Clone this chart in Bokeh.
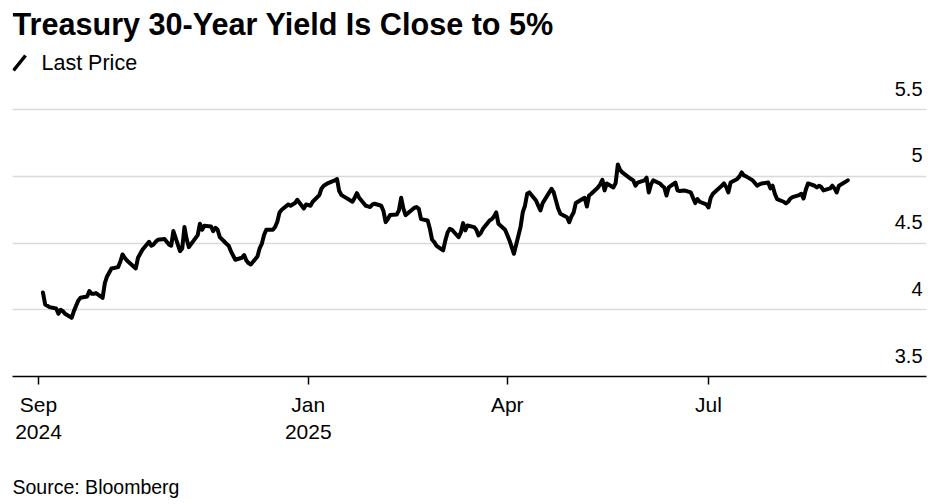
import pandas as pd
from bokeh.plotting import figure
from bokeh.models import Range1d, FixedTicker, Label, Arrow, Grid, ColumnDataSource, Title
from bokeh.embed import file_html
from bokeh.resources import INLINE

# ---------------- data ----------------
title_text = "Treasury 30-Year Yield Is Close to 5%"
series_name = "Last Price"
source_text = "Source: Bloomberg"

dates = [
    # Sep 2024
    "2024-09-03", "2024-09-04", "2024-09-05", "2024-09-06", "2024-09-09", "2024-09-10", "2024-09-11",
    "2024-09-12", "2024-09-13", "2024-09-16", "2024-09-17", "2024-09-18", "2024-09-19", "2024-09-20",
    "2024-09-23", "2024-09-24", "2024-09-25", "2024-09-26", "2024-09-27", "2024-09-30",
    # Oct 2024
    "2024-10-01", "2024-10-02", "2024-10-03", "2024-10-04", "2024-10-07", "2024-10-08", "2024-10-09",
    "2024-10-10", "2024-10-11", "2024-10-15", "2024-10-16", "2024-10-17", "2024-10-18", "2024-10-21",
    "2024-10-22", "2024-10-23", "2024-10-24", "2024-10-25", "2024-10-28", "2024-10-29", "2024-10-30",
    "2024-10-31",
    # Nov 2024
    "2024-11-01", "2024-11-04", "2024-11-05", "2024-11-06", "2024-11-07", "2024-11-08", "2024-11-12",
    "2024-11-13", "2024-11-14", "2024-11-15", "2024-11-18", "2024-11-19", "2024-11-20", "2024-11-21",
    "2024-11-22", "2024-11-25", "2024-11-26", "2024-11-27", "2024-11-29",
    # Dec 2024
    "2024-12-02", "2024-12-03", "2024-12-04", "2024-12-05", "2024-12-06", "2024-12-09", "2024-12-10",
    "2024-12-11", "2024-12-12", "2024-12-13", "2024-12-16", "2024-12-17", "2024-12-18", "2024-12-19",
    "2024-12-20", "2024-12-23", "2024-12-24", "2024-12-26", "2024-12-27", "2024-12-30", "2024-12-31",
    # Jan 2025
    "2025-01-02", "2025-01-03", "2025-01-06", "2025-01-07", "2025-01-08", "2025-01-10", "2025-01-13",
    "2025-01-14", "2025-01-15", "2025-01-16", "2025-01-17", "2025-01-21", "2025-01-22", "2025-01-23",
    "2025-01-24", "2025-01-27", "2025-01-28", "2025-01-29", "2025-01-30", "2025-01-31",
    # Feb 2025
    "2025-02-03", "2025-02-04", "2025-02-05", "2025-02-06", "2025-02-07", "2025-02-10", "2025-02-11",
    "2025-02-12", "2025-02-13", "2025-02-14", "2025-02-18", "2025-02-19", "2025-02-20", "2025-02-21",
    "2025-02-24", "2025-02-25", "2025-02-26", "2025-02-27", "2025-02-28",
    # Mar 2025
    "2025-03-03", "2025-03-04", "2025-03-05", "2025-03-06", "2025-03-07", "2025-03-10", "2025-03-11",
    "2025-03-12", "2025-03-13", "2025-03-14", "2025-03-17", "2025-03-18", "2025-03-19", "2025-03-20",
    "2025-03-21", "2025-03-24", "2025-03-25", "2025-03-26", "2025-03-27", "2025-03-28", "2025-03-31",
    # Apr 2025
    "2025-04-01", "2025-04-02", "2025-04-03", "2025-04-04", "2025-04-07", "2025-04-08", "2025-04-09",
    "2025-04-10", "2025-04-11", "2025-04-14", "2025-04-15", "2025-04-16", "2025-04-17", "2025-04-21",
    "2025-04-22", "2025-04-23", "2025-04-24", "2025-04-25", "2025-04-28", "2025-04-29", "2025-04-30",
    # May 2025
    "2025-05-01", "2025-05-02", "2025-05-05", "2025-05-06", "2025-05-07", "2025-05-08", "2025-05-09",
    "2025-05-12", "2025-05-13", "2025-05-14", "2025-05-15", "2025-05-16", "2025-05-19", "2025-05-20",
    "2025-05-21", "2025-05-22", "2025-05-23", "2025-05-27", "2025-05-28", "2025-05-29", "2025-05-30",
    # Jun 2025
    "2025-06-02", "2025-06-03", "2025-06-04", "2025-06-05", "2025-06-06", "2025-06-09", "2025-06-10",
    "2025-06-11", "2025-06-12", "2025-06-13", "2025-06-16", "2025-06-17", "2025-06-18", "2025-06-20",
    "2025-06-23", "2025-06-24", "2025-06-25", "2025-06-26", "2025-06-27", "2025-06-30",
    # Jul 2025
    "2025-07-01", "2025-07-02", "2025-07-03", "2025-07-07", "2025-07-08", "2025-07-09", "2025-07-10",
    "2025-07-11", "2025-07-14", "2025-07-15", "2025-07-16", "2025-07-17", "2025-07-18", "2025-07-21",
    "2025-07-22", "2025-07-23", "2025-07-24", "2025-07-25", "2025-07-28", "2025-07-29", "2025-07-30",
    "2025-07-31",
    # Aug / Sep 2025
    "2025-08-01", "2025-08-04", "2025-08-05", "2025-08-06", "2025-08-07", "2025-08-08", "2025-08-11",
    "2025-08-12", "2025-08-13", "2025-08-14", "2025-08-15", "2025-08-18", "2025-08-19", "2025-08-20",
    "2025-08-21", "2025-08-22", "2025-08-25", "2025-08-26", "2025-08-27", "2025-08-28", "2025-08-29",
    "2025-09-02",
]

yields = [
    # Sep 2024
    4.13, 4.04, 4.03, 4.02, 4.01, 3.97, 4.00, 3.99, 3.97, 3.94, 3.99, 4.03, 4.07, 4.09,
    4.10, 4.14, 4.12, 4.12, 4.125, 4.09,
    # Oct 2024
    4.20, 4.25, 4.28, 4.31, 4.32, 4.36, 4.415, 4.39, 4.37, 4.31, 4.39, 4.42, 4.45, 4.51,
    4.48, 4.49, 4.51, 4.525, 4.53, 4.51, 4.49, 4.48,
    # Nov 2024
    4.59, 4.44, 4.46, 4.62, 4.53, 4.47, 4.56, 4.645, 4.60, 4.63, 4.625, 4.59, 4.615, 4.60,
    4.545, 4.495, 4.48, 4.44, 4.375,
    # Dec 2024
    4.39, 4.41, 4.37, 4.35, 4.34, 4.40, 4.46, 4.495, 4.56, 4.60, 4.60, 4.62, 4.66, 4.73,
    4.75, 4.79, 4.78, 4.80, 4.825, 4.76, 4.79,
    # Jan 2025
    4.78, 4.81, 4.86, 4.91, 4.93, 4.95, 4.97, 4.98, 4.89, 4.86, 4.85, 4.81, 4.84, 4.874,
    4.84, 4.78, 4.775, 4.77, 4.79, 4.795,
    # Feb 2025
    4.78, 4.74, 4.657, 4.68, 4.71, 4.714, 4.745, 4.84, 4.76, 4.71, 4.765, 4.77, 4.757, 4.68,
    4.67, 4.607, 4.525, 4.507, 4.48,
    # Mar 2025
    4.445, 4.52, 4.58, 4.607, 4.60, 4.544, 4.58, 4.65, 4.595, 4.632, 4.62, 4.60, 4.557, 4.575,
    4.607, 4.67, 4.68, 4.70, 4.73, 4.645, 4.60,
    # Apr 2025
    4.56, 4.52, 4.47, 4.42, 4.62, 4.73, 4.78, 4.87, 4.88, 4.82, 4.78, 4.745, 4.80, 4.907,
    4.88, 4.82, 4.76, 4.72, 4.694, 4.657, 4.70,
    # May 2025
    4.73, 4.80, 4.83, 4.84, 4.774, 4.857, 4.87, 4.917, 4.94, 4.975, 4.895, 4.947, 4.917, 4.95,
    5.09, 5.05, 5.03, 4.98, 4.97, 4.93, 4.954,
    # Jun 2025
    4.97, 4.99, 4.88, 4.94, 4.97, 4.947, 4.93, 4.917, 4.857, 4.917, 4.954, 4.895, 4.89, 4.895,
    4.88, 4.84, 4.80, 4.83, 4.81, 4.79,
    # Jul 2025
    4.767, 4.84, 4.87, 4.93, 4.947, 4.92, 4.88, 4.954, 4.98, 5.00, 5.03, 5.007, 5.00, 4.97,
    4.95, 4.93, 4.94, 4.947, 4.954, 4.91, 4.93, 4.87,
    # Aug / Sep 2025
    4.83, 4.81, 4.797, 4.81, 4.834, 4.845, 4.86, 4.87, 4.834, 4.90, 4.947, 4.93, 4.917, 4.93,
    4.92, 4.895, 4.91, 4.93, 4.91, 4.88, 4.93,
    4.97,
]

ytick_values = [3.5, 4.0, 4.5, 5.0, 5.5]
ytick_labels = ["3.5", "4", "4.5", "5", "5.5"]
grid_values = [4.0, 4.5, 5.0, 5.5]

xtick_dates = ["2024-09-01", "2025-01-01", "2025-04-01", "2025-07-01"]
xtick_labels = ["Sep\n2024", "Jan\n2025", "Apr", "Jul"]

# ---------------- layout constants (canvas px) ----------------
FONT = "Liberation Sans"
W, H = 933, 502
FRAME_LEFT, FRAME_RIGHT = 12, 926
FRAME_TOP, FRAME_BOTTOM = 0, 376
PX_PER_UNIT = 133.4
SEP_TICK_PX = 38
JUL_TICK_PX = 708


def ms(d):
    return pd.Timestamp(d).value / 1e6


t_sep = ms(xtick_dates[0])
t_jul = ms(xtick_dates[3])
ms_per_px = (t_jul - t_sep) / (JUL_TICK_PX - SEP_TICK_PX)
x0 = t_sep - (SEP_TICK_PX - FRAME_LEFT) * ms_per_px
x1 = t_sep + (FRAME_RIGHT - SEP_TICK_PX) * ms_per_px
y0 = 3.5
y1 = 3.5 + (FRAME_BOTTOM - FRAME_TOP) / PX_PER_UNIT

src = ColumnDataSource(dict(x=[ms(d) for d in dates], y=yields))

p = figure(width=W, height=H, x_axis_type="datetime",
           x_range=Range1d(x0, x1), y_range=Range1d(y0, y1),
           output_backend="svg", toolbar_location=None,
           y_axis_location=None,
           min_border_left=FRAME_LEFT, min_border_right=W - FRAME_RIGHT,
           min_border_top=FRAME_TOP, min_border_bottom=H - FRAME_BOTTOM,
           background_fill_color="white", border_fill_color="white",
           outline_line_color=None)

p.xgrid.visible = False
for g in p.ygrid:
    g.visible = False
p.add_layout(Grid(dimension=1, ticker=FixedTicker(ticks=grid_values),
                  grid_line_color="#dadada", grid_line_width=1.6))

tick_ms = [ms(d) for d in xtick_dates]
ax = p.xaxis[0]
ax.ticker = FixedTicker(ticks=tick_ms)
ax.major_label_overrides = {t: lab for t, lab in zip(tick_ms, xtick_labels)}
ax.axis_line_color = "black"
ax.axis_line_width = 1.6
ax.major_tick_line_color = "black"
ax.major_tick_line_width = 1.5
ax.major_tick_out = 8
ax.major_tick_in = 0
ax.minor_tick_line_color = None
ax.major_label_text_color = "black"
ax.major_label_text_font = FONT
ax.major_label_text_font_size = "21px"
ax.major_label_standoff = 8
# blank axis label used only as vertical spacing before the source note
ax.axis_label = " "
ax.axis_label_standoff = 13
ax.axis_label_text_font_size = "10px"

# source note, left aligned under the axis
p.add_layout(Title(text=source_text, align="left", text_font=FONT,
                   text_font_size="19.5px", text_font_style="normal",
                   text_color="black", standoff=0, offset=0), "below")

p.line("x", "y", source=src, line_color="black", line_width=4,
       line_join="round", line_cap="round")

# y tick labels (right side, above grid lines)
for v, t in zip(ytick_values, ytick_labels):
    p.add_layout(Label(x=FRAME_RIGHT - FRAME_LEFT - 4, y=v, x_units="screen", y_units="data",
                       y_offset=21, text=t, text_align="right", text_baseline="alphabetic",
                       text_font=FONT, text_font_size="20px", text_color="black"))

# title
p.add_layout(Label(x=0, y=FRAME_BOTTOM - 23.5, x_units="screen", y_units="screen",
                   text=title_text, text_font=FONT, text_font_size="30.6px",
                   text_font_style="bold", text_color="black",
                   text_baseline="alphabetic", text_align="left"))

# legend
p.add_layout(Arrow(end=None, x_start=1, y_start=FRAME_BOTTOM - 70, x_end=13,
                   y_end=FRAME_BOTTOM - 55, start_units="screen", end_units="screen",
                   line_color="black", line_width=3.5))
p.add_layout(Label(x=29, y=FRAME_BOTTOM - 62, x_units="screen", y_units="screen",
                   text=series_name, text_font=FONT, text_font_size="21.5px",
                   text_color="black", text_baseline="alphabetic", text_align="left"))

open("out.html", "w").write(file_html(p, INLINE))
